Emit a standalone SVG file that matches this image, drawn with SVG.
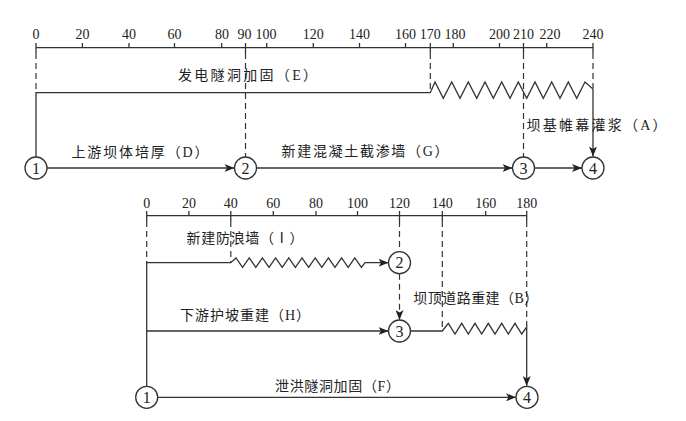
<svg xmlns="http://www.w3.org/2000/svg" width="686" height="421" viewBox="0 0 686 421">
<defs>
<style>
.ax{stroke:#333;stroke-width:1.3;fill:none}
.ln{stroke:#333;stroke-width:1.3;fill:none}
.ds{stroke:#333;stroke-width:1.2;fill:none;stroke-dasharray:6 4}
.num{font-family:"Liberation Serif",serif;font-size:14px;fill:#222;text-anchor:middle}
.nd circle{fill:#fff;stroke:#333;stroke-width:1.3}
.nd text{font-family:"Liberation Serif",serif;font-size:16px;fill:#222;text-anchor:middle}
.lb{font-family:"Liberation Serif","Noto Sans CJK SC",serif;font-size:14px;fill:#222}
</style>
<marker id="ar" viewBox="0 0 10 8" refX="10" refY="4" markerWidth="10" markerHeight="8" markerUnits="userSpaceOnUse" orient="auto">
<path d="M0,0 L10,4 L0,8 L2.5,4 z" fill="#222"/>
</marker>
</defs>
<rect width="686" height="421" fill="#fff"/>

<g id="axis-top">
<path class="ax" d="M36,47.7 H593"/>
<path class="ax" d="M36,43 V53 M82.4,43 V47.7 M129,43 V47.7 M174.5,43 V47.7 M221.7,43 V47.7 M245.5,43 V53 M266.7,43 V47.7 M313.3,43 V47.7 M359.5,43 V47.7 M405.5,43 V47.7 M430.3,43 V53 M453.3,43 V47.7 M499.5,43 V47.7 M523.5,43 V53 M546.7,43 V47.7 M593,43 V53"/>
<text class="num" x="36" y="39">0</text>
<text class="num" x="82.4" y="39">20</text>
<text class="num" x="129" y="39">40</text>
<text class="num" x="174.5" y="39">60</text>
<text class="num" x="222" y="39">80</text>
<text class="num" x="244.5" y="39">90</text>
<text class="num" x="266" y="39">100</text>
<text class="num" x="313.3" y="39">120</text>
<text class="num" x="359.5" y="39">140</text>
<text class="num" x="405.5" y="39">160</text>
<text class="num" x="430.3" y="39">170</text>
<text class="num" x="455" y="39">180</text>
<text class="num" x="499.5" y="39">200</text>
<text class="num" x="523.5" y="39">210</text>
<text class="num" x="550" y="39">220</text>
<text class="num" x="593" y="39">240</text>
</g>

<g id="axis-bottom">
<path class="ax" d="M146.7,215.7 H526.7"/>
<path class="ax" d="M146.7,211 V221 M188.9,211 V215.7 M230.8,211 V221 M273.3,211 V215.7 M316,211 V215.7 M357.5,211 V215.7 M399.5,211 V221 M442.3,211 V221 M485.7,211 V215.7 M526.7,211 V221"/>
<text class="num" x="146.7" y="207.5">0</text>
<text class="num" x="188.9" y="207.5">20</text>
<text class="num" x="230.8" y="207.5">40</text>
<text class="num" x="273.3" y="207.5">60</text>
<text class="num" x="316" y="207.5">80</text>
<text class="num" x="357.5" y="207.5">100</text>
<text class="num" x="399.5" y="207.5">120</text>
<text class="num" x="442.3" y="207.5">140</text>
<text class="num" x="485.7" y="207.5">160</text>
<text class="num" x="526.7" y="207.5">180</text>
</g>

<g id="connectors">
<!-- top dashed projections -->
<path class="ds" d="M36,53 V92.7"/>
<path class="ds" d="M245.5,53 V157"/>
<path class="ds" d="M430.3,53 V92"/>
<path class="ds" d="M523.5,53 V157"/>
<path class="ds" d="M593,53 V88"/>
<!-- E -->
<path class="ln" marker-end="url(#ar)" d="M36,157 V92.7 H430.3 L435,82 L443.3,98.3 L451.7,82 L460,98.3 L468.3,82 L476.7,98.3 L485,82 L493.3,98.3 L501.7,82 L510,98.3 L518.3,82 L526.7,98.3 L535,82 L543.3,98.3 L551.7,82 L560,98.3 L568.3,82 L576.7,98.3 L585,82 L593,89 V156.5"/>
<!-- D -->
<path class="ln" marker-end="url(#ar)" d="M47,168 H234.5"/>
<!-- G -->
<path class="ln" marker-end="url(#ar)" d="M256.5,168 H512.5"/>
<!-- 3-4 -->
<path class="ln" marker-end="url(#ar)" d="M534.5,168 H582"/>

<!-- bottom dashed projections -->
<path class="ds" d="M146.7,221 V262.7"/>
<path class="ds" d="M230.8,221 V262.7"/>
<path class="ds" d="M399.5,221 V251.7"/>
<path class="ds" d="M442.3,221 V330"/>
<path class="ds" d="M526.7,221 V326"/>
<!-- I -->
<path class="ln" marker-end="url(#ar)" d="M146.7,386.3 V262.7 H230.8 L236,258 L242.6,267.4 L249.2,258 L255.8,267.4 L262.4,258 L269,267.4 L275.6,258 L282.2,267.4 L288.8,258 L295.4,267.4 L302,258 L308.6,267.4 L315.2,258 L321.8,267.4 L328.4,258 L335,267.4 L341.6,258 L348.2,267.4 L354.8,258 L361.4,267.4 L365,262.7 H388.5"/>
<!-- H -->
<path class="ln" marker-end="url(#ar)" d="M146.7,331 H388.5"/>
<!-- 2-3 dummy -->
<path class="ds" marker-end="url(#ar)" d="M399.5,273.7 V320"/>
<!-- B -->
<path class="ln" marker-end="url(#ar)" d="M410.5,331 H442.3 L448.3,323.3 L455,334 L461.7,323.3 L468.3,334 L475,323.3 L481.7,334 L488.3,323.3 L495,334 L501.7,323.3 L508.3,334 L515,323.3 L521.7,334 L526.7,327 V386"/>
<!-- F -->
<path class="ln" marker-end="url(#ar)" d="M157.7,397.3 H516"/>
</g>

<g id="labels">
<text class="lb" x="178" y="80" textLength="139" lengthAdjust="spacing">发电隧洞加固（E）</text>
<text class="lb" x="71.5" y="156.5" textLength="137" lengthAdjust="spacing">上游坝体培厚（D）</text>
<text class="lb" x="281.5" y="156" textLength="167" lengthAdjust="spacing">新建混凝土截渗墙（G）</text>
<text class="lb" x="526.5" y="129.5" textLength="140" lengthAdjust="spacing">坝基帷幕灌浆（A）</text>
<text class="lb" x="186.5" y="243.3" textLength="117" lengthAdjust="spacing">新建防浪墙（Ⅰ）</text>
<text class="lb" x="413.3" y="303" textLength="125" lengthAdjust="spacing">坝顶道路重建（B）</text>
<text class="lb" x="180" y="320" textLength="130" lengthAdjust="spacing">下游护坡重建（H）</text>
<text class="lb" x="275" y="390.5" textLength="125" lengthAdjust="spacing">泄洪隧洞加固（F）</text>
</g>

<g id="node-t1" class="nd"><circle cx="36" cy="168" r="11"/><text x="36" y="173.5">1</text></g>
<g id="node-t2" class="nd"><circle cx="245.5" cy="168" r="11"/><text x="245.5" y="173.5">2</text></g>
<g id="node-t3" class="nd"><circle cx="523.5" cy="168" r="11"/><text x="523.5" y="173.5">3</text></g>
<g id="node-t4" class="nd"><circle cx="593" cy="168" r="11"/><text x="593" y="173.5">4</text></g>
<g id="node-b1" class="nd"><circle cx="146.7" cy="397.3" r="11"/><text x="146.7" y="402.8">1</text></g>
<g id="node-b2" class="nd"><circle cx="399.5" cy="262.7" r="11"/><text x="399.5" y="268.2">2</text></g>
<g id="node-b3" class="nd"><circle cx="399.5" cy="331" r="11"/><text x="399.5" y="336.5">3</text></g>
<g id="node-b4" class="nd"><circle cx="527" cy="397.3" r="11"/><text x="527" y="402.8">4</text></g>
</svg>
